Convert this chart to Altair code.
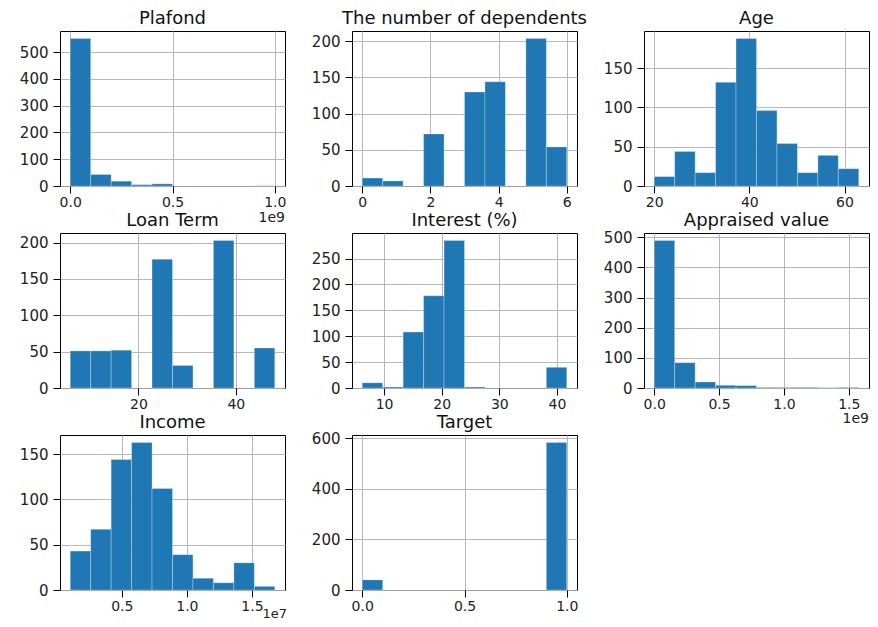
import altair as alt
import numpy as np
import pandas as pd

# ---- data (10 bins per histogram) ----
titles = ["Plafond", "The number of dependents", "Age", "Loan Term",
          "Interest (%)", "Appraised value", "Income", "Target"]

plafond_range = [0.0, 1.0e9]
plafond_counts = [551, 43, 18, 5, 8, 0, 0, 0, 0, 1]

dependents_range = [0.0, 6.0]
dependents_counts = [11, 7, 0, 72, 0, 130, 144, 0, 204, 54]

age_range = [20.0, 63.0]
age_counts = [12, 44, 17, 132, 188, 96, 54, 17, 39, 22]

loan_range = [6.0, 48.0]
loan_counts = [51, 51, 52, 0, 177, 31, 0, 203, 0, 55]

interest_range = [6.2, 41.7]
interest_counts = [10, 2, 108, 178, 285, 2, 0, 0, 0, 40]

appraised_range = [0.0, 1.577e9]
appraised_counts = [490, 84, 20, 9, 8, 2, 2, 2, 1, 2]

income_range = [0.104e7, 1.675e7]
income_counts = [43, 67, 144, 163, 112, 39, 13, 8, 30, 4]

target_range = [0.0, 1.0]
target_counts = [40, 0, 0, 0, 0, 0, 0, 0, 0, 583]

x_ticks = [
    [0, 0.5e9, 1.0e9],
    [0, 2, 4, 6],
    [20, 40, 60],
    [20, 40],
    [10, 20, 30, 40],
    [0, 0.5e9, 1.0e9, 1.5e9],
    [0.5e7, 1.0e7, 1.5e7],
    [0, 0.5, 1.0],
]
y_ticks = [
    [0, 100, 200, 300, 400, 500],
    [0, 50, 100, 150, 200],
    [0, 50, 100, 150],
    [0, 50, 100, 150, 200],
    [0, 50, 100, 150, 200, 250],
    [0, 100, 200, 300, 400, 500],
    [0, 50, 100, 150],
    [0, 200, 400, 600],
]
x_label_expr = [
    "format(datum.value/1e9, '.1f')",
    "format(datum.value, 'd')",
    "format(datum.value, 'd')",
    "format(datum.value, 'd')",
    "format(datum.value, 'd')",
    "format(datum.value/1e9, '.1f')",
    "format(datum.value/1e7, '.1f')",
    "format(datum.value, '.1f')",
]
offset_texts = ["1e9", "", "", "", "", "1e9", "1e7", ""]
offset_dy = [32, 0, 0, 0, 0, 31, 24, 0]
offset_dx = [0, 0, 0, 0, 0, 0, 2, 0]
offset_size = [14, 14, 14, 14, 14, 14, 13, 14]

ranges = [plafond_range, dependents_range, age_range, loan_range,
          interest_range, appraised_range, income_range, target_range]
counts_all = [plafond_counts, dependents_counts, age_counts, loan_counts,
              interest_counts, appraised_counts, income_counts, target_counts]

W, H = 225, 155
BLUE = "#1f77b4"
FONT = "DejaVu Sans"


def panel(i):
    lo, hi = ranges[i]
    counts = counts_all[i]
    edges = np.linspace(lo, hi, len(counts) + 1)
    df = pd.DataFrame({"x0": edges[:-1], "x1": edges[1:], "count": counts})
    df = df[df["count"] > 0]
    pad = 0.05 * (hi - lo)
    ymax = max(counts) * 1.05
    bars = alt.Chart(df).mark_rect(
        color=BLUE, stroke="white", strokeWidth=0.4, strokeOpacity=0.7
    ).encode(
        x=alt.X("x0:Q",
                scale=alt.Scale(domain=[lo - pad, hi + pad], nice=False, zero=False),
                axis=alt.Axis(values=x_ticks[i], labelExpr=x_label_expr[i],
                              title=None, grid=True, labelPadding=2,
                              labelFontSize=14)),
        x2="x1:Q",
        y=alt.Y("count:Q",
                scale=alt.Scale(domain=[0, ymax], nice=False),
                axis=alt.Axis(values=y_ticks[i], format="d", title=None,
                              grid=True, labelPadding=5, labelFontSize=15)),
        y2=alt.datum(0),
    )
    title = alt.Chart(pd.DataFrame({"t": [titles[i]]})).mark_text(
        align="center", baseline="alphabetic", font=FONT, fontSize=18, color="#111"
    ).encode(x=alt.value(W / 2), y=alt.value(-7), text="t:N")
    layers = [bars, title]
    if offset_texts[i]:
        txt = alt.Chart(pd.DataFrame({"t": [offset_texts[i]]})).mark_text(
            align="right", baseline="middle", font=FONT,
            fontSize=offset_size[i], color="#222"
        ).encode(x=alt.value(W + offset_dx[i]), y=alt.value(H + offset_dy[i]),
                 text="t:N")
        layers.append(txt)
    return alt.layer(*layers).properties(width=W, height=H)


chart = alt.concat(
    *[panel(i) for i in range(8)],
    columns=3,
    spacing={"row": 47, "column": 67},
    bounds="flush",
).properties(
    padding={"left": 5, "top": 1, "right": 0, "bottom": -1},
    background="white",
).configure_axis(
    gridColor="#b0b0b0",
    gridWidth=0.9,
    gridOpacity=1,
    domain=False,
    tickColor="black",
    tickSize=7,
    tickWidth=1,
    labelFont=FONT,
    labelColor="#222",
    zindex=1,
).configure_axisY(
    minExtent=46, maxExtent=46,
).configure_view(
    stroke="black", strokeWidth=1,
)

chart.save("out.html", embed_options={"renderer": "svg", "actions": False})
